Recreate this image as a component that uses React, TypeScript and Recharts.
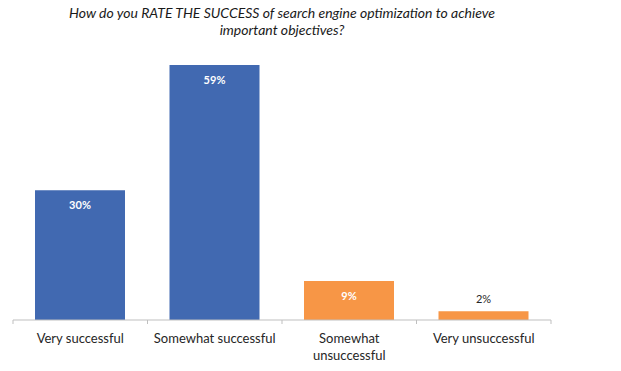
import { BarChart, Bar, XAxis, YAxis, Cell, LabelList } from "recharts";

const categories = [
  "Very successful",
  "Somewhat successful",
  "Somewhat unsuccessful",
  "Very unsuccessful",
];
const shares = [30, 59, 9, 2];
const barColors = ["#4169B1", "#4169B1", "#F79646", "#F79646"];
// how the long category names break onto two lines
const tickLines: Record<string, string[]> = {
  "Somewhat unsuccessful": ["Somewhat", "unsuccessful"],
};

const data = categories.map((name, i) => ({ name, value: shares[i] }));

const HALF_BAND = 538 / categories.length / 2;

function CategoryTick(props: any) {
  const { x, y, payload, index } = props;
  const lines = tickLines[payload.value] ?? [payload.value];
  const last = index === categories.length - 1;
  return (
    <g>
      <line x1={x - HALF_BAND} x2={x - HALF_BAND} y1={y} y2={y + 4} stroke="#BFBFBF" />
      {last && (
        <line x1={x + HALF_BAND} x2={x + HALF_BAND} y1={y} y2={y + 4} stroke="#BFBFBF" />
      )}
      <text
        x={x}
        y={y}
        textAnchor="middle"
        fill="#262626"
        fontSize={13}
        fontFamily="Lato, 'Open Sans', sans-serif"
      >
        {lines.map((l, i) => (
          <tspan key={i} x={x} dy={i === 0 ? 23 : 17}>
            {l}
          </tspan>
        ))}
      </text>
    </g>
  );
}

function ValueLabel(props: any) {
  const { x, y, width, value } = props;
  const inside = value >= 5;
  return (
    <text
      x={x + width / 2}
      y={inside ? y + 14 : y - 13}
      textAnchor="middle"
      dominantBaseline="central"
      fill={inside ? "#ffffff" : "#262626"}
      fontWeight={inside ? 700 : 400}
      fontSize={11}
      fontFamily="Lato, 'Open Sans', sans-serif"
    >
      {value}%
    </text>
  );
}

export default function App() {
  return (
    <div
      style={{
        position: "absolute",
        left: 0,
        top: 0,
        width: 621,
        height: 371,
        background: "#fff",
      }}
    >
      <div
        style={{
          position: "absolute",
          left: 13,
          width: 538,
          top: 4,
          textAlign: "center",
          fontFamily: "Lato, 'Open Sans', sans-serif",
          fontStyle: "italic",
          fontSize: 14,
          lineHeight: "17px",
          color: "#1a1a1a",
        }}
      >
        How do you RATE THE SUCCESS of search engine optimization to achieve
        <br />
        important objectives?
      </div>
      <BarChart
        width={621}
        height={371}
        data={data}
        margin={{ top: 65, right: 70, bottom: 11, left: 13 }}
        style={{ position: "absolute", left: 0, top: 0 }}
      >
        <YAxis hide domain={[0, 59]} />
        <XAxis
          dataKey="name"
          stroke="#BFBFBF"
          tickLine={false}
          tick={<CategoryTick />}
          tickSize={0}
          tickMargin={0}
          height={40}
          interval={0}
        />
        <Bar dataKey="value" barSize={90} isAnimationActive={false}>
          {data.map((d, i) => (
            <Cell key={d.name} fill={barColors[i]} />
          ))}
          <LabelList dataKey="value" content={<ValueLabel />} />
        </Bar>
      </BarChart>
    </div>
  );
}
